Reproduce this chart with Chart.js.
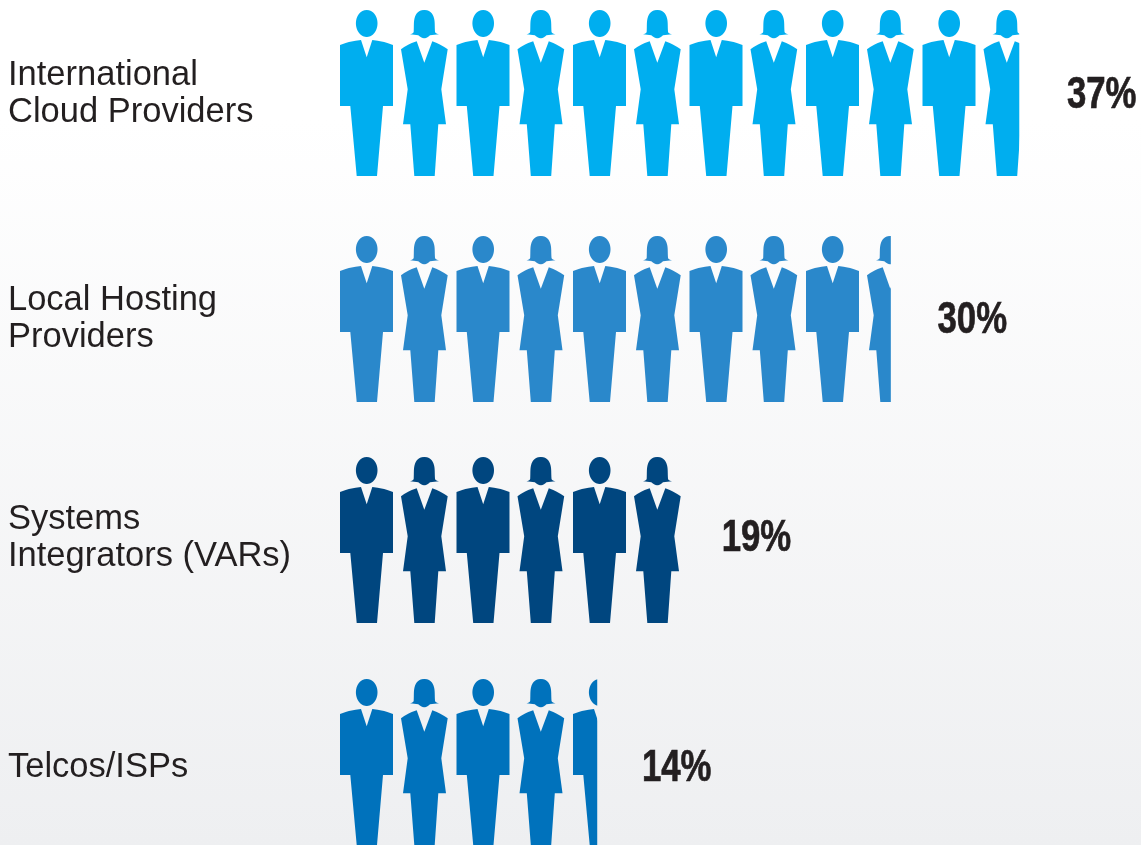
<!DOCTYPE html>
<html>
<head>
<meta charset="utf-8">
<title>Providers</title>
<script src="https://cdn.jsdelivr.net/npm/chart.js@4"></script>
<style>
  html, body { margin: 0; padding: 0; overflow: hidden; }
  body { width: 1141px; height: 845px; background: linear-gradient(to bottom, #ffffff 0, #ffffff 120px, #eeeff1 845px); }
  canvas { display: block; }
</style>
</head>
<body>
<canvas id="myChart" width="1141" height="845"></canvas>
<script>
const categories = [
  ["International", "Cloud Providers"],
  ["Local Hosting", "Providers"],
  ["Systems", "Integrators (VARs)"],
  ["Telcos/ISPs"],
];
const shares = [37, 30, 19, 14];
const shareLabels = ["37%", "30%", "19%", "14%"];
const barColors = ["#00aeef", "#2a88cb", "#00467f", "#0072bc"];

// rows in the picture are not quite evenly spaced, small px nudges per row
const figureNudge = [-1, 2, 0, -1];
const tickNudge = [0, 2, -2, 4];
const labelGap = [48, 47, 33, 45];
const labelShift = [2, 4, -1, 6];

// one man + one woman, in px, repeated along the bar
const TILE_W = 116.5;
const FIGURE_H = 166;
const TILE_MARGIN = 5;
const ROW_STEP = 223;
const manHead = "M26.7 0C32.9 0 37.5 6 37.5 13.3C37.5 20.7 32.9 27 26.7 27C20.5 27 15.9 20.7 15.9 13.3C15.9 6 20.5 0 26.7 0Z";
const manBody = "M0 35Q10 31 21 30L26.7 47.3L32.3 30Q43 31 53 35L53 96L43 96L37 166L16.7 166L10.3 96L0 96Z";
const womanHead = "M70 24.3Q73.5 23.5 73.7 21.7C74 16 73.6 12 74.5 8.5C75.8 3 79 0 84.3 0C89.6 0 92.8 3 94.1 8.5C95 12 94.6 16 95 21.7Q95.2 23.5 99 24.3L90 25.3Q87 28.3 84.3 28.3Q81.6 28.3 78.3 25.3Z";
const womanBody = "M61 39.3Q68 34 76.7 31.3L84.3 52.7L92.3 31.3Q100 34 107.7 39.3L101.3 79.3L106 114.3L98.3 114.3L94.7 166L74.3 166L70.3 114.3L63 114.3L67.7 79.3Z";

function makeTile(color) {
  const tile = document.createElement("canvas");
  tile.width = TILE_W * 2;
  tile.height = (FIGURE_H + TILE_MARGIN * 2) * 2;
  const c = tile.getContext("2d");
  c.scale(2, 2);
  c.translate(0, TILE_MARGIN);
  c.fillStyle = color;
  [manHead, manBody, womanHead, womanBody].forEach((d) => c.fill(new Path2D(d)));
  return tile;
}

function peoplePattern(ctx) {
  const chart = ctx.chart;
  const i = ctx.dataIndex;
  if (i === undefined || !chart.scales.y) return barColors[0];
  const pattern = chart.ctx.createPattern(makeTile(barColors[i]), "repeat-x");
  const x0 = chart.scales.x.getPixelForValue(0);
  const top = chart.scales.y.getPixelForValue(i) - FIGURE_H / 2 - TILE_MARGIN + figureNudge[i];
  pattern.setTransform(new DOMMatrix([0.5, 0, 0, 0.5, x0, top]));
  return pattern;
}

const shareLabelPlugin = {
  id: "shareLabels",
  afterDatasetsDraw(chart) {
    const c = chart.ctx;
    chart.getDatasetMeta(0).data.forEach((bar, i) => {
      c.save();
      c.translate(bar.x + labelGap[i], bar.y + labelShift[i]);
      c.scale(0.79, 1); // no condensed bold installed, squeeze it
      c.font = "bold 44px 'Liberation Sans'";
      c.fillStyle = "#231f20";
      c.strokeStyle = "#231f20";
      c.lineWidth = 0.7;
      c.textAlign = "left";
      c.textBaseline = "middle";
      c.fillText(shareLabels[i], 0, 0);
      c.strokeText(shareLabels[i], 0, 0);
      c.restore();
    });
  },
};

new Chart(document.getElementById("myChart").getContext("2d"), {
  type: "bar",
  data: {
    labels: categories,
    datasets: [
      {
        data: shares,
        backgroundColor: peoplePattern,
        borderWidth: 0,
        barThickness: FIGURE_H + TILE_MARGIN * 2,
        clip: false,
      },
    ],
  },
  options: {
    indexAxis: "y",
    responsive: false,
    animation: false,
    layout: { padding: { left: 8, right: 67, top: 94, bottom: 82 } },
    plugins: { legend: { display: false }, tooltip: { enabled: false } },
    scales: {
      x: { display: false, min: 0, max: 40 },
      y: {
        offset: false,
        grid: { display: false, drawTicks: false },
        border: { display: false },
        afterFit(scale) {
          scale.width = 332;
        },
        afterTickToLabelConversion(scale) {
          scale.ticks.forEach((t, i) => {
            t.value = i + tickNudge[i] / ROW_STEP;
          });
        },
        ticks: {
          autoSkip: false,
          crossAlign: "far",
          padding: 0,
          color: "#231f20",
          font: { family: "'Liberation Sans'", size: 34.5, lineHeight: 1.1 },
        },
      },
    },
  },
  plugins: [shareLabelPlugin],
});
</script>
</body>
</html>
